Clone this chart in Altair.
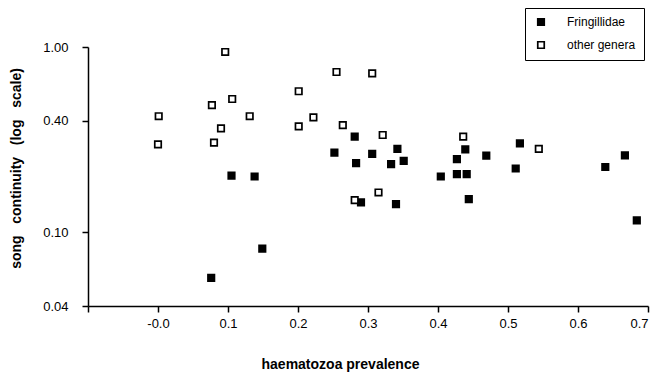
import altair as alt
import pandas as pd

# Fringillidae (filled squares)
fr_x = [0.281, 0.252, 0.283, 0.306, 0.105, 0.138, 0.342, 0.351, 0.333, 0.404,
        0.427, 0.439, 0.427, 0.441, 0.469, 0.517, 0.511, 0.639, 0.667, 0.290,
        0.340, 0.444, 0.684, 0.149, 0.076]
fr_y = [0.328, 0.269, 0.236, 0.265, 0.202, 0.200, 0.282, 0.243, 0.233, 0.200,
        0.248, 0.280, 0.206, 0.206, 0.259, 0.302, 0.221, 0.225, 0.260, 0.145,
        0.142, 0.151, 0.116, 0.0816, 0.0567]
# other genera (open squares)
ot_x = [0.096, 0.255, 0.306, 0.201, 0.106, 0.077, 0.001, 0.131, 0.222, 0.090,
        0.201, 0.264, 0.000, 0.080, 0.321, 0.436, 0.544, 0.281, 0.315]
ot_y = [0.94, 0.733, 0.72, 0.577, 0.524, 0.486, 0.423, 0.423, 0.417, 0.364,
        0.373, 0.379, 0.298, 0.305, 0.335, 0.328, 0.282, 0.149, 0.164]

groups = ["Fringillidae", "other genera"]
x_ticks = [-0.1, 0.0, 0.1, 0.2, 0.3, 0.4, 0.5, 0.6, 0.7]
y_ticks = [0.04, 0.10, 0.40, 1.00]

df = pd.DataFrame({
    "x": fr_x + ot_x,
    "y": fr_y + ot_y,
    "g": [groups[0]] * len(fr_x) + [groups[1]] * len(ot_x),
})

FONT = "Liberation Sans"
NB = "\u00a0"

chart = alt.Chart(df).mark_point(
    shape="square", filled=True, size=42, stroke="black", strokeWidth=1.7, opacity=1
).encode(
    x=alt.X("x:Q", scale=alt.Scale(domain=[-0.1, 0.7], nice=False, zero=False),
            axis=alt.Axis(values=x_ticks, grid=False, title="haematozoa prevalence",
                          labelExpr="datum.value < -0.05 ? '' : (abs(datum.value) < 0.001 ? '-0.0' : format(datum.value, '.1f'))",
                          titleX=252, titleY=58, titleBaseline="middle")),
    y=alt.Y("y:Q", scale=alt.Scale(type="log", domain=[0.04, 1.0], nice=False),
            axis=alt.Axis(values=y_ticks, format=".2f", grid=False,
                          title=f"song{NB*3}continuity{NB*3}(log{NB*3}scale)",
                          titleX=-72, titleY=121, titleAngle=270, titleBaseline="middle",
                          titleAlign="center")),
    fill=alt.Fill("g:N", scale=alt.Scale(domain=groups, range=["black", "white"]),
                  legend=alt.Legend(title=None, orient="none", legendX=437, legendY=-39,
                                    symbolType="square", symbolSize=42,
                                    symbolStrokeColor="black", symbolStrokeWidth=1.7,
                                    strokeColor="black", padding=8, rowPadding=9,
                                    labelFontSize=12, labelFont=FONT, labelOffset=20,
                                    symbolOffset=2, labelColor="black",
                                    labelExpr="datum.label + '\u00a0\u00a0\u00a0'")),
).properties(
    width=560, height=259,
    autosize=alt.AutoSizeParams(type="none"),
    padding={"left": 80, "top": 39, "right": 2, "bottom": 66},
).configure_view(stroke=None).configure_axis(
    domainColor="black", domainWidth=1.5, tickColor="black", tickWidth=1.5, tickSize=6,
    labelFont=FONT, labelFontSize=13, labelColor="black", labelPadding=5,
    titleFont=FONT, titleFontSize=14, titleFontWeight="bold", titleColor="black",
).configure_axisY(labelPadding=14)

chart.save("out.html", embed_options={"renderer": "svg", "actions": False})
